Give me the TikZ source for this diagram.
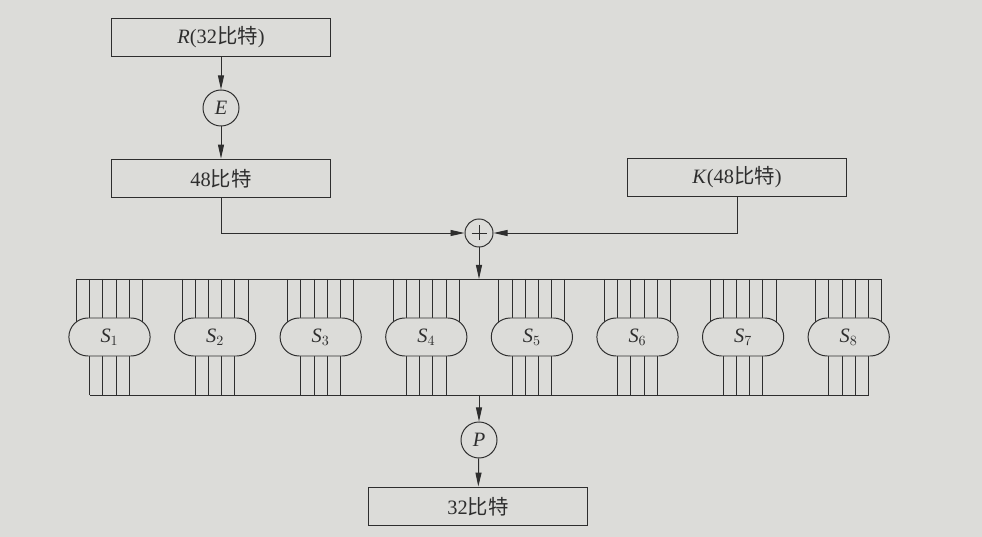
\documentclass[tikz,border=0pt]{standalone}
\usepackage{fontspec}
\setmainfont{Liberation Serif}
\newfontfamily\cjk{Noto Sans CJK SC}
\usepackage{tikz}
\usetikzlibrary{positioning,shapes.misc,arrows.meta,calc}
\definecolor{ink}  {HTML}{2E2E2E}
\definecolor{paper}{HTML}{DCDCD9}
\tikzset{
  >={Triangle[length=3.5mm,width=1.5mm]},
  every node/.style={font=\fontsize{14.5}{17}\selectfont, text=ink},
  % --- nodes
  box/.style  = {draw=ink, fill=paper, line width=0.7pt, inner sep=0pt,
                 minimum width=5.45cm, minimum height=0.97cm},
  ring/.style = {circle, draw=ink, fill=paper, line width=0.7pt, inner sep=0pt,
                 minimum size=0.9cm},
  xring/.style= {ring, minimum size=0.7cm},
  sbox/.style = {rounded rectangle, draw=ink, fill=paper, line width=0.7pt,
                 inner sep=0pt, minimum width=2.03cm, minimum height=0.95cm},
  % --- edges
  wire/.style = {draw=ink, line width=0.7pt},
  arr/.style  = {wire, ->},
}
\newcommand{\bit}{{\cjk 比特}}
\begin{document}
\begin{tikzpicture}[x=0.025cm, y=-0.025cm]
  \fill[paper] (0,0) rectangle (982,537);
  \useasboundingbox (0,0) rectangle (982,537);

  \node[box] (r)   at (221,37.5)  {\textit{R}(32\bit)};
  \node[ring] (e)  at (221,108)   {\textit{E}};
  \node[box] (h48) at (221,178.5) {48\bit};
  \node[box] (k)   at (737,177.5) {\textit{K}(48\bit)};
  \node[xring] (x) at (479,233)   {};
  \draw[wire] ($(x.center)+(-7.5,0)$) -- ($(x.center)+(7.5,0)$)
              ($(x.center)+(0,-7.5)$) -- ($(x.center)+(0,7.5)$);

  \draw[arr] (r) -- (e);
  \draw[arr] (e) -- (h48);
  \draw[arr] (h48.south) |- (x);
  \draw[arr] (k.south) |- (x);

  % S-boxes with their six inputs and four outputs
  \coordinate (bustop) at (479,279);
  \coordinate (busbot) at (479,395);
  \draw[wire] (76.5,279) -- (881.7,279);
  \draw[wire] (89.7,395) -- (868.5,395);
  \foreach \i in {1,...,8}{
    \pgfmathsetmacro\cx{109.5+(\i-1)*105.6}
    \foreach \d in {-33,-19.8,-6.6,6.6,19.8,33}
      \draw[wire] (\cx+\d,279) -- (\cx+\d,337);
    \foreach \d in {-19.8,-6.6,6.6,19.8}
      \draw[wire] (\cx+\d,337) -- (\cx+\d,395);
    \node[sbox] (s\i) at (\cx,337) {\textit{S}$_{\i}$};
  }
  \draw[arr] (x) -- (bustop);

  \node[ring] (p)  at (479,440)   {\textit{P}};
  \node[box] (h32) at (478,506.5) {32\bit};
  \draw[arr] (busbot) -- (p);
  \draw[arr] (p) -- (h32);
\end{tikzpicture}
\end{document}
